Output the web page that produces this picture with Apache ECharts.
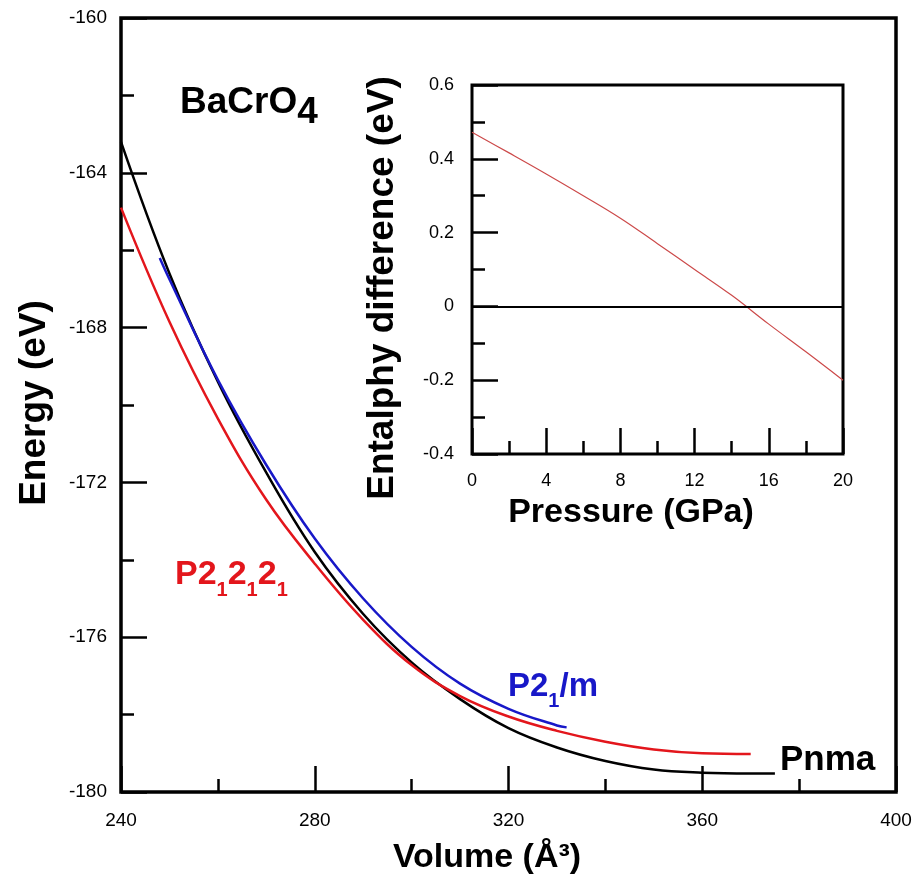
<!DOCTYPE html>
<html>
<head>
<meta charset="utf-8">
<script src="https://cdn.jsdelivr.net/npm/echarts@6/dist/echarts.min.js"></script>
<style>
  html, body { margin: 0; padding: 0; background: #fff; }
  #chart { width: 919px; height: 883px; }
</style>
</head>
<body>
<div id="chart"></div>
<script>
// E(V) curves, volume in A^3, energy in eV
const pnmaVol = [240, 250, 260, 270, 280, 290, 300, 310, 320, 330, 340, 350, 360, 370, 375]
const pnmaE = [-163.2, -166.6, -169.4, -171.75, -173.8, -175.4, -176.65, -177.6, -178.35, -178.85, -179.2, -179.42, -179.5, -179.52, -179.52]

const p212121Vol = [240, 250, 260, 270, 280, 290, 300, 310, 320, 330, 340, 350, 360, 370]
const p212121E = [-164.9, -167.85, -170.35, -172.45, -174.1, -175.55, -176.72, -177.52, -178.05, -178.42, -178.7, -178.9, -179.0, -179.02]

const p21mVol = [248, 250, 260, 270, 280, 290, 300, 310, 320, 330, 332]
const p21mE = [-166.2, -166.75, -169.35, -171.55, -173.45, -175.0, -176.25, -177.2, -177.85, -178.28, -178.33]

// inset: enthalpy difference vs pressure
const pressure = [0, 2, 4, 6, 8, 10, 12, 14, 16, 18, 20]
const dH = [0.472, 0.416, 0.359, 0.300, 0.239, 0.170, 0.100, 0.030, -0.048, -0.123, -0.200]

const FONT = 'Liberation Sans, Arial, Helvetica, sans-serif'

function pairs (xs, ys) {
  return xs.map((x, i) => [x, ys[i]])
}

function valueAxis (opt) {
  return Object.assign({
    type: 'value',
    axisLine: { show: false, onZero: false },
    axisTick: { show: true, inside: true, length: 26, lineStyle: { color: '#000', width: 2.5 } },
    minorTick: { show: true, splitNumber: 2, length: 13, lineStyle: { color: '#000', width: 2.5 } },
    splitLine: { show: false },
    minorSplitLine: { show: false },
    axisLabel: { color: '#000', fontFamily: FONT, fontSize: 19 }
  }, opt)
}

let chart = echarts.init(document.getElementById('chart'))
let option = {
  backgroundColor: '#fff',
  animation: false,
  grid: [
    { left: 121, top: 18, width: 775, height: 774, show: true, borderColor: '#000', borderWidth: 3.5, backgroundColor: 'transparent' },
    { left: 472, top: 85, width: 371, height: 369, show: true, borderColor: '#000', borderWidth: 3, backgroundColor: '#fff' }
  ],
  xAxis: [
    valueAxis({ gridIndex: 0, min: 240, max: 400, interval: 40, axisLabel: { color: '#000', fontFamily: FONT, fontSize: 19, margin: 19 } }),
    valueAxis({ gridIndex: 1, min: 0, max: 20, interval: 4, axisLabel: { color: '#000', fontFamily: FONT, fontSize: 18, margin: 18 } })
  ],
  yAxis: [
    valueAxis({ gridIndex: 0, min: -180, max: -160, interval: 4, axisLabel: { color: '#000', fontFamily: FONT, fontSize: 19, margin: 14 } }),
    valueAxis({ gridIndex: 1, min: -0.4, max: 0.6, interval: 0.2, axisLabel: { color: '#000', fontFamily: FONT, fontSize: 18, margin: 18 } })
  ],
  series: [
    {
      type: 'line', xAxisIndex: 0, yAxisIndex: 0, showSymbol: false, smooth: 0.4,
      lineStyle: { color: '#000', width: 2.5 }, data: pairs(pnmaVol, pnmaE)
    },
    {
      type: 'line', xAxisIndex: 0, yAxisIndex: 0, showSymbol: false, smooth: 0.4,
      lineStyle: { color: '#e3161c', width: 2.5 }, data: pairs(p212121Vol, p212121E)
    },
    {
      type: 'line', xAxisIndex: 0, yAxisIndex: 0, showSymbol: false, smooth: 0.4,
      lineStyle: { color: '#1818c8', width: 2.5 }, data: pairs(p21mVol, p21mE)
    },
    {
      type: 'line', xAxisIndex: 1, yAxisIndex: 1, showSymbol: false, smooth: 0.4,
      lineStyle: { color: '#cc4a4a', width: 1.2 }, data: pairs(pressure, dH), z: 3,
      markLine: {
        silent: true, symbol: 'none', label: { show: false },
        lineStyle: { color: '#000', width: 2, type: 'solid' },
        data: [{ yAxis: 0 }]
      }
    }
  ],
  graphic: [
    // axis titles
    { type: 'text', x: 35, y: 403, rotation: Math.PI / 2, style: { text: 'Energy (eV)', font: 'bold 37px ' + FONT, fill: '#000', align: 'center', verticalAlign: 'middle' } },
    { type: 'text', x: 487, y: 858, style: { text: 'Volume (Å³)', font: 'bold 34px ' + FONT, fill: '#000', align: 'center', verticalAlign: 'middle' } },
    { type: 'text', x: 383, y: 288, rotation: Math.PI / 2, style: { text: 'Entalphy difference (eV)', font: 'bold 37px ' + FONT, fill: '#000', align: 'center', verticalAlign: 'middle' } },
    { type: 'text', x: 631, y: 513, style: { text: 'Pressure (GPa)', font: 'bold 34px ' + FONT, fill: '#000', align: 'center', verticalAlign: 'middle' } },
    // labels
    {
      type: 'text', x: 180, y: 84,
      style: {
        text: '{a|BaCrO}{s|4}',
        rich: {
          a: { fontSize: 37, fontWeight: 'bold', fontFamily: FONT, fill: '#000', verticalAlign: 'top' },
          s: { fontSize: 37, fontWeight: 'bold', fontFamily: FONT, fill: '#000', verticalAlign: 'top', padding: [10, 0, 0, 0] }
        }
      }
    },
    {
      type: 'text', x: 175, y: 558,
      style: {
        text: '{a|P2}{s|1}{a|2}{s|1}{a|2}{s|1}',
        rich: {
          a: { fontSize: 34, fontWeight: 'bold', fontFamily: FONT, fill: '#e3161c', verticalAlign: 'top' },
          s: { fontSize: 20, fontWeight: 'bold', fontFamily: FONT, fill: '#e3161c', verticalAlign: 'top', padding: [22, 0, 0, 0] }
        }
      }
    },
    {
      type: 'text', x: 508, y: 670,
      style: {
        text: '{a|P2}{s|1}{a|/m}',
        rich: {
          a: { fontSize: 33, fontWeight: 'bold', fontFamily: FONT, fill: '#1818c8', verticalAlign: 'top' },
          s: { fontSize: 20, fontWeight: 'bold', fontFamily: FONT, fill: '#1818c8', verticalAlign: 'top', padding: [21, 0, 0, 0] }
        }
      }
    },
    { type: 'text', x: 780, y: 743, style: { text: 'Pnma', font: 'bold 35px ' + FONT, fill: '#000' } }
  ]
}
chart.setOption(option)
</script>
</body>
</html>
